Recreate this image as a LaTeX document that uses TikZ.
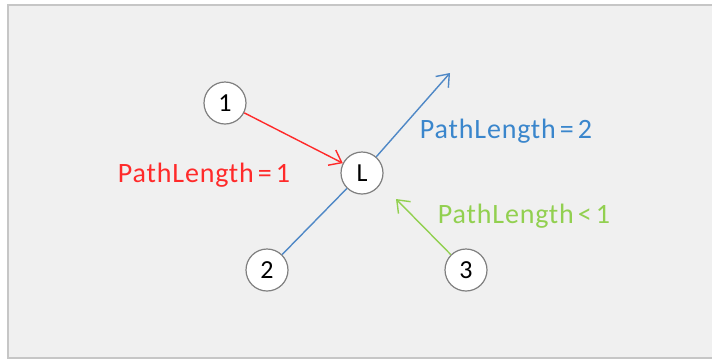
\documentclass[tikz,border=0pt]{standalone}
\usepackage{fontspec}
\setmainfont{Carlito}
\newfontfamily\lblfont[LetterSpace=3]{Carlito}
\usetikzlibrary{arrows.meta}
\definecolor{panel}{HTML}{F0F0F0}
\definecolor{frame}{HTML}{C6C6C6}
\definecolor{ring}{HTML}{7F7F7F}
\definecolor{redc}{HTML}{FF2A2A}
\definecolor{bluec}{HTML}{4F88C6}
\definecolor{bluet}{HTML}{3A86CC}
\definecolor{greenc}{HTML}{92D050}
\tikzset{
  vertex/.style={circle, draw=ring, line width=1.2pt, fill=white, minimum size=42pt, inner sep=0pt, font=\fontsize{26}{26}\selectfont},
  link/.style={line width=1.4pt, -{Straight Barb[length=11pt, width=17pt, line width=1.4pt]}},
  lbl/.style={font=\lblfont\fontsize{28}{28}\selectfont, inner sep=0pt, anchor=base}
}
\newcommand{\eqgap}{\hspace{4pt}}
\begin{document}
\begin{tikzpicture}[x=1pt, y=-1pt]
  \useasboundingbox (0,0) rectangle (712,360);
  \fill[white] (0,0) rectangle (712,360);
  \filldraw[fill=panel, draw=frame, line width=2pt] (8,5) rectangle (716,358);

  \node[vertex] (n1) at (225,103) {1};
  \node[vertex] (nL) at (362,173) {L};
  \node[vertex] (n2) at (267,270) {2};
  \node[vertex] (n3) at (466,270) {3};
  \coordinate (tipB) at (450,73);
  \coordinate (tipG) at (396,199);

  \draw[bluec, line width=1.4pt] (n2) -- (nL);
  \draw[link, bluec] (nL) -- (tipB);
  \draw[link, redc] (n1) -- (nL);
  \draw[link, greenc] (n3) -- (tipG);

  \node[lbl, text=redc] (t1) at (204,182) {PathLength\eqgap=\eqgap1};
  \node[lbl, text=bluet] (t2) at (506,138) {PathLength\eqgap=\eqgap2};
  \node[lbl, text=greenc] (t3) at (524,223) {PathLength\eqgap<\eqgap1};
\end{tikzpicture}
\end{document}
